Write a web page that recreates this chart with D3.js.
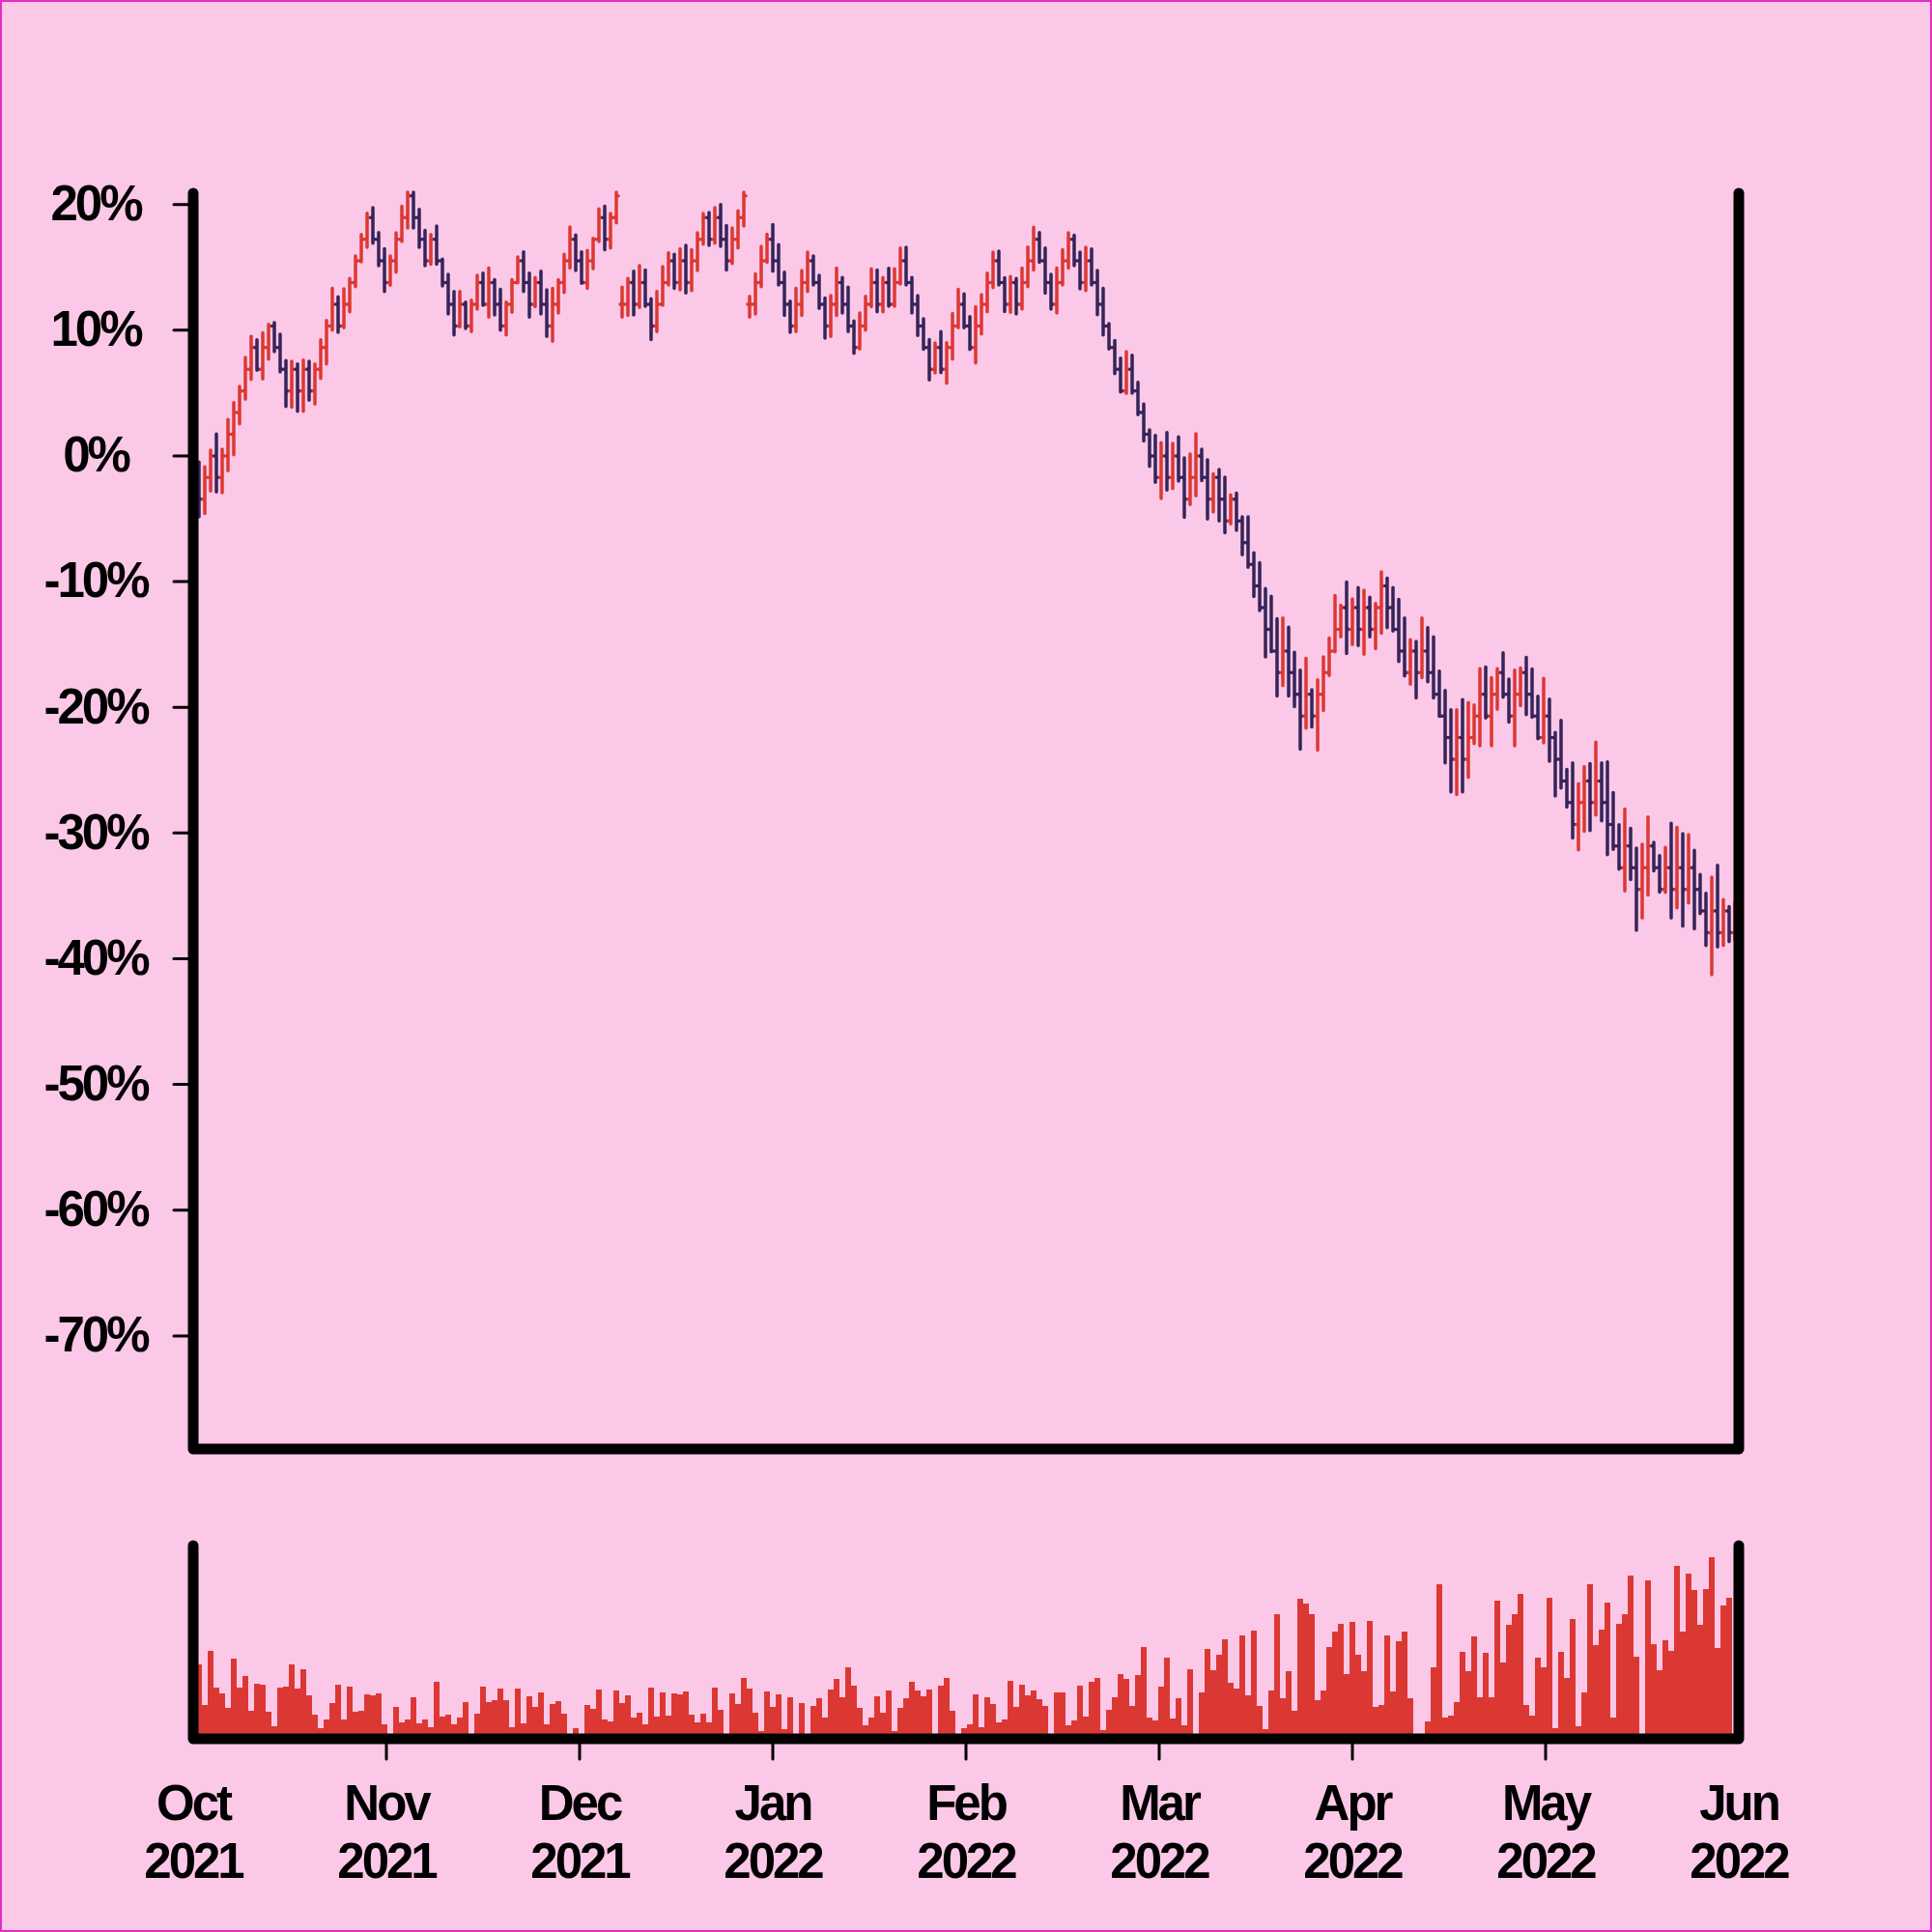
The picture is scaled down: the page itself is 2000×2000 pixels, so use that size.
<!DOCTYPE html>
<html><head><meta charset="utf-8">
<script src="https://cdn.jsdelivr.net/npm/d3@7"></script>
<style>html,body{margin:0;padding:0;background:#fcc8e7;}svg{display:block;}</style>
</head><body>
<script>
// ---- DATA (percent change) ----
const openPct = [
-1.72,-3.45,-1.72,0,-1.72,0,1.72,3.45,5.17,6.9,
8.62,6.9,8.62,10.34,8.62,6.9,5.17,6.9,5.17,6.9,
5.17,6.9,8.62,10.34,12.07,10.34,12.07,13.79,15.52,17.24,
18.96,17.24,15.52,13.79,15.52,17.24,18.96,20.69,18.96,17.24,
15.52,17.24,15.52,13.79,12.07,10.34,12.07,10.34,12.07,13.79,
12.07,13.79,12.07,10.34,12.07,13.79,15.52,13.79,12.07,13.79,
12.07,10.34,12.07,13.79,15.52,17.24,15.52,13.79,15.52,17.24,
18.96,17.24,18.96,12.07,12.07,13.79,12.07,13.79,12.07,10.34,
12.07,13.79,15.52,13.79,15.52,13.79,15.52,17.24,18.96,17.24,
18.96,17.24,15.52,17.24,18.96,12.07,12.07,13.79,15.52,17.24,
15.52,13.79,12.07,10.34,12.07,13.79,15.52,13.79,12.07,10.34,
12.07,13.79,12.07,10.34,8.62,10.34,12.07,13.79,12.07,13.79,
12.07,13.79,15.52,13.79,12.07,10.34,8.62,6.9,8.62,6.9,
8.62,10.34,12.07,10.34,8.62,10.34,12.07,13.79,15.52,13.79,
12.07,13.79,12.07,13.79,15.52,17.24,15.52,13.79,12.07,13.79,
15.52,17.24,15.52,13.79,15.52,13.79,12.07,10.34,8.62,6.9,
5.17,6.9,5.17,3.45,1.72,0,-1.72,0,-1.72,0,
-1.72,-3.45,-1.72,0,-1.72,-3.45,-1.72,-3.45,-5.17,-3.45,
-5.17,-6.9,-8.62,-10.34,-12.07,-13.79,-15.52,-17.24,-15.52,-17.24,
-18.96,-20.69,-18.96,-20.69,-18.96,-17.24,-15.52,-13.79,-12.07,-13.79,
-12.07,-13.79,-12.07,-13.79,-12.07,-10.34,-12.07,-13.79,-15.52,-17.24,
-15.52,-17.24,-15.52,-17.24,-18.96,-20.69,-22.41,-24.14,-22.41,-24.14,
-22.41,-20.69,-18.96,-20.69,-18.96,-17.24,-18.96,-20.69,-18.96,-17.24,
-18.96,-20.69,-22.41,-20.69,-22.41,-24.14,-25.86,-27.58,-29.31,-27.58,
-25.86,-27.58,-25.86,-27.58,-29.31,-31.03,-32.76,-31.03,-32.76,-34.48,
-32.76,-31.03,-32.76,-34.48,-32.76,-34.48,-32.76,-34.48,-32.76,-34.48,
-36.2,-37.93,-36.2,-37.93,-36.2,-37.93];
const highPct = [
-0.49,-0.87,0.46,1.74,0.54,2.89,4.25,5.53,7.83,9.5,
9.24,9.8,10.47,10.6,9.68,7.58,7.53,7.32,7.63,7.53,
7.32,9.24,10.78,13.34,12.65,13.29,14.11,15.9,17.61,19.3,
19.74,17.77,16.49,15.9,17.74,19.87,20.97,20.97,19.61,17.95,
17.62,18.28,15.65,14.44,13.09,13.09,12.24,12.39,14.37,14.55,
14.95,14.03,13.26,12.24,14.03,15.83,16.23,14.55,14.19,14.7,
13.21,13.34,14.03,16.03,18.21,17.57,16.23,16.34,17.31,19.66,
19.87,19.28,20.97,13.42,14.11,14.7,15.13,14.8,12.5,13.09,
15.06,16.16,16.03,16.49,16.75,16.41,17.74,19.28,19.36,19.74,
20.0,18.33,18.13,19.49,20.97,12.7,14.49,16.67,17.64,18.41,
16.8,14.62,12.32,13.34,14.75,16.21,15.9,14.37,12.57,12.75,
14.95,14.19,13.42,10.73,11.37,12.7,14.88,14.8,14.19,14.93,
14.88,16.54,16.59,14.19,12.75,10.91,9.25,8.99,9.89,9.0,
11.34,13.26,12.88,11.08,11.88,12.83,14.54,16.21,16.28,14.18,
14.28,14.11,14.95,16.61,18.2,17.77,16.54,14.44,14.95,16.41,
17.74,17.56,16.21,16.59,16.46,14.75,13.34,10.52,9.19,7.78,
8.29,8.01,5.86,4.12,2.07,1.64,1.05,1.87,1.0,1.51,
-0.15,0.15,1.77,0.54,-0.31,-1.43,-1.08,-1.69,-3.1,-2.97,
-4.84,-4.84,-7.71,-8.5,-10.55,-11.16,-12.95,-12.9,-13.62,-15.62,
-17.05,-16.1,-18.59,-17.82,-15.98,-14.49,-11.11,-11.88,-10.04,-11.37,
-10.47,-10.68,-11.24,-11.75,-9.22,-9.73,-10.47,-11.42,-12.9,-14.62,
-14.75,-12.9,-13.67,-14.39,-17.12,-18.66,-20.2,-20.2,-19.38,-19.61,
-19.81,-16.92,-16.79,-17.64,-16.92,-15.66,-17.76,-17.05,-16.87,-16.02,
-16.95,-19.12,-17.69,-19.35,-21.99,-21.04,-24.93,-24.42,-26.08,-24.73,
-24.47,-22.76,-24.42,-24.34,-26.78,-29.34,-28.08,-29.62,-31.21,-30.9,
-28.72,-30.74,-31.79,-31.15,-29.23,-29.54,-30.05,-30.13,-31.38,-33.3,
-34.79,-33.51,-32.56,-35.3,-35.86,-35.5];
const lowPct = [
-4.84,-4.58,-2.79,-2.87,-2.92,-1.18,0.1,2.56,4.51,6.09,
6.81,6.12,7.71,8.29,6.68,3.94,3.87,3.56,3.56,4.43,
4.12,6.17,7.32,10.01,9.83,10.2,11.47,13.47,15.44,16.59,
16.92,15.13,13.08,13.59,14.62,17.05,18.13,18.13,16.59,15.13,
15.26,15.26,13.52,11.29,9.63,10.27,10.14,9.89,11.68,11.98,
11.04,11.22,10.01,9.63,11.42,13.78,13.09,11.04,11.88,11.29,
9.5,9.12,11.37,13.01,14.95,14.75,13.73,13.34,14.88,17.05,
16.41,16.54,18.54,11.04,11.17,11.22,11.81,11.9,9.25,9.89,
11.98,13.6,13.34,13.21,12.96,13.16,14.75,16.85,16.75,16.93,
16.67,14.8,15.31,16.54,18.28,11.04,11.29,13.47,15.4,14.7,
13.6,11.17,9.83,9.89,11.17,13.09,13.6,11.73,9.37,9.5,
11.17,11.37,9.89,8.17,8.5,10.01,11.88,11.47,11.47,11.9,
11.9,13.67,13.6,11.37,9.58,8.48,6.05,6.61,6.63,5.79,
7.71,10.2,10.2,8.47,7.4,9.7,11.47,13.39,13.6,11.49,
11.42,11.29,11.67,13.47,14.8,15.4,12.95,11.67,11.37,13.6,
14.95,15.13,13.29,13.16,13.6,11.24,9.63,8.5,6.55,5.09,
4.97,5.0,3.28,1.18,-0.82,-2.1,-3.38,-2.71,-2.59,-2.0,
-4.89,-3.87,-3.17,-1.97,-5.02,-4.45,-5.17,-6.12,-5.4,-5.91,
-7.86,-8.86,-11.19,-12.3,-15.98,-15.59,-19.1,-18.28,-19.1,-19.94,
-23.32,-21.66,-21.56,-23.4,-20.25,-17.46,-15.59,-14.39,-15.72,-15.0,
-15.08,-15.77,-14.39,-15.33,-14.11,-13.67,-13.93,-16.36,-17.5,-18.15,
-19.25,-17.64,-17.97,-19.25,-20.71,-24.42,-26.72,-26.93,-26.72,-25.57,
-22.88,-23.06,-20.84,-23.06,-20.15,-19.2,-21.17,-23.06,-19.86,-20.58,
-20.79,-22.5,-22.83,-24.29,-27.06,-26.42,-27.93,-30.39,-31.33,-29.85,
-29.8,-28.57,-29.03,-31.72,-31.3,-32.87,-34.61,-33.69,-37.73,-36.76,
-34.92,-33.0,-34.7,-34.71,-36.76,-35.94,-37.4,-35.56,-37.61,-36.4,
-38.94,-41.27,-39.06,-38.94,-38.63,-38.5];
const closePct = [
-3.45,-1.72,0,-1.72,0,1.72,3.45,5.17,6.9,8.62,
6.9,8.62,10.34,8.62,6.9,5.17,6.9,5.17,6.9,5.17,
6.9,8.62,10.34,12.07,10.34,12.07,13.79,15.52,17.24,18.96,
17.24,15.52,13.79,15.52,17.24,18.96,20.69,18.96,17.24,15.52,
17.24,15.52,13.79,12.07,10.34,12.07,10.34,12.07,13.79,12.07,
13.79,12.07,10.34,12.07,13.79,15.52,13.79,12.07,13.79,12.07,
10.34,12.07,13.79,15.52,17.24,15.52,13.79,15.52,17.24,18.96,
17.24,18.96,20.69,12.07,13.79,12.07,13.79,12.07,10.34,12.07,
13.79,15.52,13.79,15.52,13.79,15.52,17.24,18.96,17.24,18.96,
17.24,15.52,17.24,18.96,20.69,12.07,13.79,15.52,17.24,15.52,
13.79,12.07,10.34,12.07,13.79,15.52,13.79,12.07,10.34,12.07,
13.79,12.07,10.34,8.62,10.34,12.07,13.79,12.07,13.79,12.07,
13.79,15.52,13.79,12.07,10.34,8.62,6.9,8.62,6.9,8.62,
10.34,12.07,10.34,8.62,10.34,12.07,13.79,15.52,13.79,12.07,
13.79,12.07,13.79,15.52,17.24,15.52,13.79,12.07,13.79,15.52,
17.24,15.52,13.79,15.52,13.79,12.07,10.34,8.62,6.9,5.17,
6.9,5.17,3.45,1.72,0,-1.72,0,-1.72,0,-1.72,
-3.45,-1.72,0,-1.72,-3.45,-1.72,-3.45,-5.17,-3.45,-5.17,
-6.9,-8.62,-10.34,-12.07,-13.79,-15.52,-17.24,-15.52,-17.24,-18.96,
-20.69,-18.96,-20.69,-18.96,-17.24,-15.52,-13.79,-12.07,-13.79,-12.07,
-13.79,-12.07,-13.79,-12.07,-10.34,-12.07,-13.79,-15.52,-17.24,-15.52,
-17.24,-15.52,-17.24,-18.96,-20.69,-22.41,-24.14,-22.41,-24.14,-22.41,
-20.69,-18.96,-20.69,-18.96,-17.24,-18.96,-20.69,-18.96,-17.24,-18.96,
-20.69,-22.41,-20.69,-22.41,-24.14,-25.86,-27.58,-29.31,-27.58,-25.86,
-27.58,-25.86,-27.58,-29.31,-31.03,-32.76,-31.03,-32.76,-34.48,-32.76,
-31.03,-32.76,-34.48,-32.76,-34.48,-32.76,-34.48,-32.76,-34.48,-36.2,
-37.93,-36.2,-37.93,-36.2,-37.93,-36.2];
const volume = [
77,35,91,53,47,32,83,53,65,29,
57,56,28,13,53,54,77,52,72,45,
25,11,20,37,56,20,54,28,29,46,
45,47,15,0,33,17,20,43,16,20,
12,59,23,25,15,22,38,0,26,54,
38,40,52,40,12,52,16,44,33,48,
15,36,39,26,0,11,0,35,31,51,
20,18,50,37,45,22,27,15,53,23,
48,24,47,46,49,25,17,26,17,53,
30,0,47,36,63,52,27,8,49,33,
46,10,43,1,37,2,34,42,22,51,
62,43,74,55,32,14,22,44,27,50,
8,32,42,59,50,44,51,1,55,63,
29,0,11,15,46,12,43,36,17,20,
60,33,56,45,50,41,34,0,48,48,
14,19,55,23,59,63,9,30,43,67,
62,34,66,95,22,19,54,84,21,42,
14,72,0,48,93,71,87,103,58,52,
107,45,112,34,10,50,129,42,70,29,
145,140,129,40,50,95,111,119,67,121,
87,70,122,33,35,107,49,101,111,42,
0,0,18,74,160,22,24,38,90,70,
106,43,89,43,143,79,118,129,150,35,
24,84,74,146,11,90,63,124,13,48,
160,97,113,141,22,119,129,169,85,0,
164,98,71,102,91,179,111,171,154,118,
155,188,94,138,146,0];
const monthLabels = ["Oct","Nov","Dec","Jan","Feb","Mar","Apr","May","Jun"];
const yearLabels  = ["2021","2021","2021","2022","2022","2022","2022","2022","2022"];
const yTickValues = [20,10,0,-10,-20,-30,-40,-50,-60,-70];

// ---- STYLE ----
const BG = "#fcc8e7", RED = "#dc3833", PURPLE = "#35245a", INK = "#000";
const FONT = "'Liberation Sans', Arial, Helvetica, sans-serif";

const W = 2000, H = 2000;
const svg = d3.select("body").append("svg").attr("width", W).attr("height", H);
svg.append("rect").attr("width", W).attr("height", H).attr("fill", BG);
svg.append("rect").attr("x", 1).attr("y", 1).attr("width", W - 2).attr("height", H - 2)
  .attr("fill", "none").attr("stroke", "#e22fc0").attr("stroke-width", 2);

// ---- SCALES ----
const slotsPerMonth = 100 / 3;
const x = d3.scaleLinear().domain([0, monthLabels.length - 1]).range([200, 1800]);
const xBar = i => x((i + 1) / slotsPerMonth);
const y = d3.scaleLinear().domain([-79, 20.9]).range([1500, 200]);
const yv = d3.scaleLinear().domain([0, 200]).range([1800, 1600]);

const bars = closePct.map((c, i) => ({ i, o: openPct[i], h: highPct[i], l: lowPct[i], c, v: volume[i] }));

// ---- VOLUME ----
svg.append("g").attr("shape-rendering", "crispEdges")
  .selectAll("rect").data(bars).join("rect")
  .attr("x", d => xBar(d.i) - 3).attr("width", 6)
  .attr("y", d => yv(d.v)).attr("height", d => yv(0) - yv(d.v))
  .attr("fill", RED);

// ---- OHLC ----
svg.append("g").attr("fill", "none").attr("stroke-width", 3.5).attr("stroke-linecap", "round")
  .selectAll("path").data(bars).join("path")
  .attr("stroke", d => d.c >= d.o ? RED : PURPLE)
  .attr("d", d => {
    const X = xBar(d.i);
    return `M${X},${y(d.h)}V${y(d.l)}M${X - 2},${y(d.o)}H${X}M${X},${y(d.c)}H${X + 2}`;
  });

// ---- FRAMES ----
const frame = (top, bottom) => `M${x.range()[0]},${top}V${bottom}H${x.range()[1]}V${top}`;
svg.append("path").attr("d", frame(y.range()[1], y.range()[0]))
  .attr("fill", "none").attr("stroke", INK).attr("stroke-width", 11)
  .attr("stroke-linecap", "round").attr("stroke-linejoin", "round");
svg.append("path").attr("d", frame(yv.range()[1], yv.range()[0]))
  .attr("fill", "none").attr("stroke", INK).attr("stroke-width", 11)
  .attr("stroke-linecap", "round").attr("stroke-linejoin", "round");

// ---- Y AXIS ----
const gy = svg.append("g");
gy.selectAll("line").data(yTickValues).join("line")
  .attr("x1", 180).attr("x2", 200).attr("y1", d => y(d)).attr("y2", d => y(d))
  .attr("stroke", INK).attr("stroke-width", 3).attr("stroke-linecap", "round");
gy.selectAll("text").data(yTickValues).join("text")
  .attr("x", 99).attr("y", d => y(d)).attr("dy", "0.32em")
  .attr("text-anchor", "middle")
  .attr("font-family", FONT).attr("font-weight", "bold").attr("font-size", 51)
  .attr("letter-spacing", -3).attr("fill", INK)
  .text(d => d + "%");

// ---- X AXIS ----
const months = d3.range(monthLabels.length);
const gx = svg.append("g");
gx.selectAll("line").data(months.slice(1, -1)).join("line")
  .attr("x1", d => x(d)).attr("x2", d => x(d)).attr("y1", 1800).attr("y2", 1821)
  .attr("stroke", INK).attr("stroke-width", 3).attr("stroke-linecap", "round");
const lab = gx.selectAll("text").data(months).join("text")
  .attr("text-anchor", "middle")
  .attr("font-family", FONT).attr("font-weight", "bold").attr("font-size", 51)
  .attr("letter-spacing", -3).attr("fill", INK);
lab.append("tspan").attr("x", d => x(d)).attr("y", 1884).text(d => monthLabels[d]);
lab.append("tspan").attr("x", d => x(d)).attr("y", 1944).text(d => yearLabels[d]);
</script>
</body></html>
